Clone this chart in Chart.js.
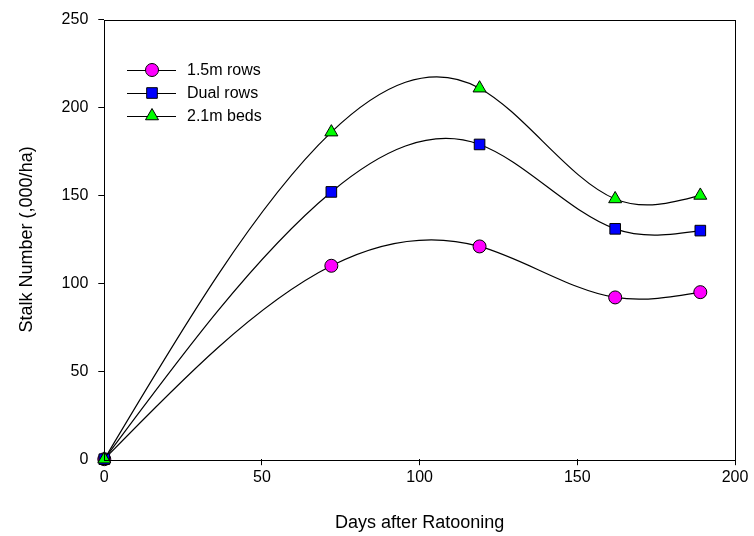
<!DOCTYPE html>
<html>
<head>
<meta charset="utf-8">
<script src="https://cdn.jsdelivr.net/npm/chart.js@4"></script>
<style>
  body { margin: 0; background: #fff; }
  #wrap { width: 754px; height: 536px; }
</style>
</head>
<body>
<div id="wrap"><canvas id="myChart" width="754" height="536"></canvas></div>
<script>
var days = [0, 72, 119, 162, 189];
var rows15 = [0, 110, 121, 92, 95];
var dualRows = [0, 152, 179, 131, 130];
var beds21 = [0, 186, 211, 148, 150];
var seriesNames = ['1.5m rows', 'Dual rows', '2.1m beds'];
var fontName = '"Liberation Sans", Arial, sans-serif';

function pts(vals) {
    return days.map(function (d, i) { return { x: d, y: vals[i] }; });
}

// natural cubic spline through the placed points -> bezier control points
function naturalSpline(points) {
    var n = points.length - 1;
    if (n < 2) return;
    var x = points.map(function (p) { return p.x; });
    var y = points.map(function (p) { return p.y; });
    var h = [], M = new Array(n + 1).fill(0);
    for (var i = 0; i < n; i++) h.push(x[i + 1] - x[i]);
    // tridiagonal solve for M1..M(n-1)
    var a = [], b = [], c = [], d = [];
    for (i = 1; i < n; i++) {
        a.push(h[i - 1]);
        b.push(2 * (h[i - 1] + h[i]));
        c.push(h[i]);
        d.push(6 * ((y[i + 1] - y[i]) / h[i] - (y[i] - y[i - 1]) / h[i - 1]));
    }
    var m = b.length;
    for (i = 1; i < m; i++) {
        var w = a[i] / b[i - 1];
        b[i] -= w * c[i - 1];
        d[i] -= w * d[i - 1];
    }
    var sol = new Array(m);
    sol[m - 1] = d[m - 1] / b[m - 1];
    for (i = m - 2; i >= 0; i--) sol[i] = (d[i] - c[i] * sol[i + 1]) / b[i];
    for (i = 1; i < n; i++) M[i] = sol[i - 1];
    for (i = 0; i < n; i++) {
        var s = (y[i + 1] - y[i]) / h[i];
        var m0 = s - h[i] * (2 * M[i] + M[i + 1]) / 6;
        var m1 = s + h[i] * (M[i] + 2 * M[i + 1]) / 6;
        points[i].cp2x = x[i] + h[i] / 3;
        points[i].cp2y = y[i] + m0 * h[i] / 3;
        points[i + 1].cp1x = x[i + 1] - h[i] / 3;
        points[i + 1].cp1y = y[i + 1] - m1 * h[i] / 3;
    }
}

var splinePlugin = {
    id: 'splinePlugin',
    beforeDatasetDraw: function (chart, args) {
        var line = args.meta.dataset;
        line.updateControlPoints(chart.chartArea, 'x');
        naturalSpline(args.meta.data);
    }
};

// box round the plot plus the legend inside it
var boxLegend = {
    id: 'boxLegend',
    afterDraw: function (chart) {
        var c = chart.ctx, a = chart.chartArea;
        c.save();
        c.strokeStyle = '#000';
        c.lineWidth = 1;
        c.strokeRect(Math.round(a.left) + 0.5, Math.round(a.top) + 0.5,
            Math.round(a.right - a.left), Math.round(a.bottom - a.top));
        c.font = '16px ' + fontName;
        c.textBaseline = 'middle';
        chart.data.datasets.forEach(function (ds, i) {
            var y = 70 + i * 23;
            c.beginPath();
            c.moveTo(127, y + 0.5);
            c.lineTo(176, y + 0.5);
            c.strokeStyle = '#000';
            c.stroke();
            c.fillStyle = ds.pointBackgroundColor;
            c.strokeStyle = '#000';
            Chart.helpers.drawPoint(c, {
                pointStyle: ds.pointStyle,
                radius: ds.pointRadius,
                borderWidth: 1
            }, 152, y);
            c.fillStyle = '#000';
            c.fillText(ds.label, 187, y + 1);
        });
        c.restore();
    }
};

function series(name, vals, shape, r, color, ord) {
    return {
        label: name,
        data: pts(vals),
        order: ord,
        borderColor: '#000',
        borderWidth: 1.2,
        tension: 0.4,
        fill: false,
        clip: false,
        pointStyle: shape,
        pointRadius: r,
        pointBackgroundColor: color,
        pointBorderColor: '#000',
        pointBorderWidth: 1
    };
}

var ctx = document.getElementById('myChart').getContext('2d');
var myChart = new Chart(ctx, {
    type: 'line',
    data: {
        datasets: [
            series(seriesNames[0], rows15, 'circle', 6.5, '#ff00ff', 2),
            series(seriesNames[1], dualRows, 'rect', 7.5, '#0000ff', 1),
            series(seriesNames[2], beds21, 'triangle', 7.5, '#00ff00', 0)
        ]
    },
    options: {
        responsive: false,
        animation: false,
        layout: { padding: { top: 13, right: 19, left: 12, bottom: 0 } },
        plugins: {
            legend: { display: false },
            tooltip: { enabled: false }
        },
        scales: {
            x: {
                type: 'linear',
                min: 0,
                max: 200,
                ticks: {
                    stepSize: 50,
                    color: '#000',
                    padding: 3,
                    font: { size: 16, family: fontName }
                },
                grid: { drawOnChartArea: false, color: '#000', tickLength: 6 },
                border: { display: false },
                title: {
                    display: true,
                    text: 'Days after Ratooning',
                    color: '#000',
                    padding: { top: 22, bottom: 2 },
                    font: { size: 18, family: fontName }
                }
            },
            y: {
                min: 0,
                max: 250,
                ticks: {
                    stepSize: 50,
                    color: '#000',
                    padding: 10,
                    font: { size: 16, family: fontName }
                },
                grid: { drawOnChartArea: false, color: '#000', tickLength: 6 },
                border: { display: false },
                title: {
                    display: true,
                    text: 'Stalk Number (,000/ha)',
                    color: '#000',
                    padding: { bottom: 14 },
                    font: { size: 18, family: fontName }
                }
            }
        }
    },
    plugins: [splinePlugin, boxLegend]
});
</script>
</body>
</html>
